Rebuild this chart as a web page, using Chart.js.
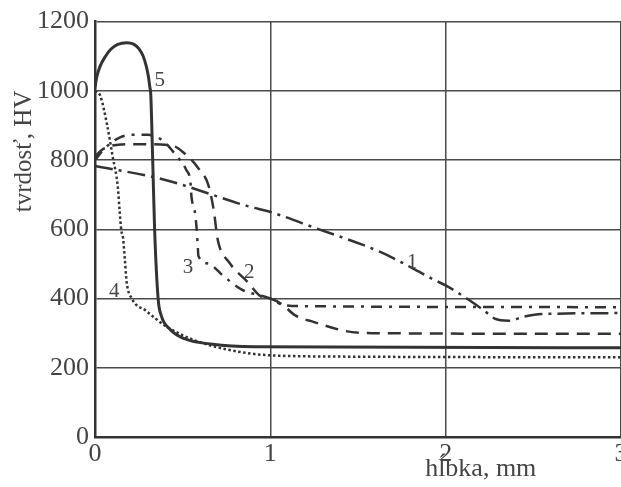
<!DOCTYPE html>
<html>
<head>
<meta charset="utf-8">
<script src="https://cdn.jsdelivr.net/npm/chart.js@4/dist/chart.umd.min.js"></script>
<style>
html,body{margin:0;padding:0;background:#fff;overflow:hidden;}
#wrap{width:640px;height:487px;position:relative;}
</style>
</head>
<body>
<div id="wrap"><canvas id="c" width="640" height="487"></canvas></div>
<script>
// Curve 1 (long dash-dot)
const curve1X = [0, 0.39, 0.87, 1.0, 1.25, 1.63, 1.81, 1.93, 2.0, 2.15, 2.22, 2.28, 2.36, 2.45, 2.55, 3.0];
const curve1Y = [783, 744, 667, 650, 605, 534, 488, 455, 438, 390, 365, 342, 336, 348, 355, 358];
// Curve 2 (dashed)
const curve2X = [0, 0.04, 0.1, 0.2, 0.3, 0.45, 0.52, 0.587, 0.647, 0.677, 0.70, 0.766, 0.868, 0.946, 1.0, 1.07, 1.14, 1.25, 1.43, 1.58, 3.0];
const curve2Y = [810, 830, 842, 846, 846, 840, 815, 778, 727, 656, 570, 504, 449, 406, 400, 382, 352, 332, 306, 300, 298];
// Curve 3 (short dash-dot)
const curve3X = [0, 0.04, 0.08, 0.14, 0.21, 0.30, 0.39, 0.46, 0.52, 0.545, 0.55, 0.57, 0.58, 0.585, 0.59, 0.647, 0.73, 0.84, 0.97, 1.0, 1.07, 1.2, 3.0];
const curve3Y = [800, 825, 845, 865, 873, 873, 855, 815, 772, 733, 695, 649, 600, 560, 523, 501, 466, 425, 405, 400, 382, 378, 375];
// Curve 4 (dotted)
const curve4X = [0, 0.03, 0.07, 0.10, 0.13, 0.14, 0.15, 0.16, 0.17, 0.18, 0.21, 0.29, 0.405, 0.565, 0.76, 1.0, 1.5, 3.0];
const curve4Y = [1000, 986, 899, 812, 723, 656, 597, 575, 515, 450, 400, 365, 320, 280, 252, 236, 232, 230];
// Curve 5 (solid)
const curve5X = [0, 0.01, 0.03, 0.06, 0.09, 0.13, 0.18, 0.22, 0.25, 0.275, 0.293, 0.305, 0.313, 0.318, 0.33, 0.34, 0.36, 0.377, 0.43, 0.51, 0.67, 0.91, 3.0];
const curve5Y = [1010, 1040, 1072, 1100, 1120, 1134, 1139, 1135, 1122, 1100, 1070, 1040, 1010, 990, 783, 600, 400, 352, 310, 284, 268, 261, 258];

const curveLabels = ["1", "2", "3", "4", "5"];
const labelX = [1.81, 0.88, 0.53, 0.11, 0.37];
const labelY = [505, 475, 490, 420, 1030];

const xTicks = [0, 1, 2, 3];
const yTicks = [0, 200, 400, 600, 800, 1000, 1200];

function pts(xs, ys) { return xs.map((x, i) => ({x: x, y: ys[i]})); }

const lineCol = '#333333';
const base = {showLine: true, pointRadius: 0, borderColor: lineCol, fill: false, cubicInterpolationMode: 'monotone'};

const textPlugin = {
  id: 'texts',
  afterDraw(chart) {
    const ctx = chart.ctx, xs = chart.scales.x, ys = chart.scales.y;
    ctx.save();
    ctx.fillStyle = '#444';
    ctx.font = '21px "Liberation Serif"';
    ctx.textAlign = 'center';
    ctx.textBaseline = 'middle';
    curveLabels.forEach((t, i) => ctx.fillText(t, xs.getPixelForValue(labelX[i]), ys.getPixelForValue(labelY[i])));
    ctx.font = '26px "Liberation Serif"';
    ctx.textAlign = 'center';
    ctx.textBaseline = 'alphabetic';
    ctx.fillText('hĺbka, mm', xs.getPixelForValue(2.2), chart.chartArea.bottom + 39);
    ctx.translate(31, ys.getPixelForValue(825));
    ctx.rotate(-Math.PI / 2);
    ctx.font = '25px "Liberation Serif"';
    ctx.fillText('tvrdosť, HV', 0, 0);
    ctx.restore();
  }
};

new Chart(document.getElementById('c'), {
  type: 'scatter',
  data: {
    datasets: [
      Object.assign({}, base, {label: curveLabels[0], data: pts(curve1X, curve1Y), borderWidth: 2.5, borderDash: [18, 6, 3, 6]}),
      Object.assign({}, base, {label: curveLabels[1], data: pts(curve2X, curve2Y), borderWidth: 2.5, borderDash: [13, 8]}),
      Object.assign({}, base, {label: curveLabels[2], data: pts(curve3X, curve3Y), borderWidth: 2.5, borderDash: [11, 7, 3, 7]}),
      Object.assign({}, base, {label: curveLabels[3], data: pts(curve4X, curve4Y), borderWidth: 2.5, borderDash: [2.5, 2.5]}),
      Object.assign({}, base, {label: curveLabels[4], data: pts(curve5X, curve5Y), borderWidth: 3})
    ]
  },
  options: {
    responsive: false,
    animation: false,
    layout: {padding: {top: 20, right: 19, left: 0, bottom: 0}},
    plugins: {legend: {display: false}, tooltip: {enabled: false}},
    scales: {
      x: {
        type: 'linear', min: 0, max: 3,
        afterBuildTicks(s) { s.ticks = xTicks.map(v => ({value: v})); },
        afterFit(s) { s.height = 50; },
        grid: {color: '#4a4a4a', lineWidth: 1.5, drawTicks: false},
        border: {color: '#333', width: 2.5},
        ticks: {font: {family: 'Liberation Serif', size: 26}, color: '#444', padding: 2, maxRotation: 0,
                callback: v => String(v)}
      },
      y: {
        type: 'linear', min: 0, max: 1200,
        afterBuildTicks(s) { s.ticks = yTicks.map(v => ({value: v})); },
        afterFit(s) { s.width = 95; },
        grid: {color: '#4a4a4a', lineWidth: 1.5, drawTicks: false},
        border: {color: '#333', width: 2.5},
        ticks: {font: {family: 'Liberation Serif', size: 26}, color: '#444', padding: 6,
                callback: v => String(v)}
      }
    }
  },
  plugins: [textPlugin]
});
</script>
</body>
</html>
